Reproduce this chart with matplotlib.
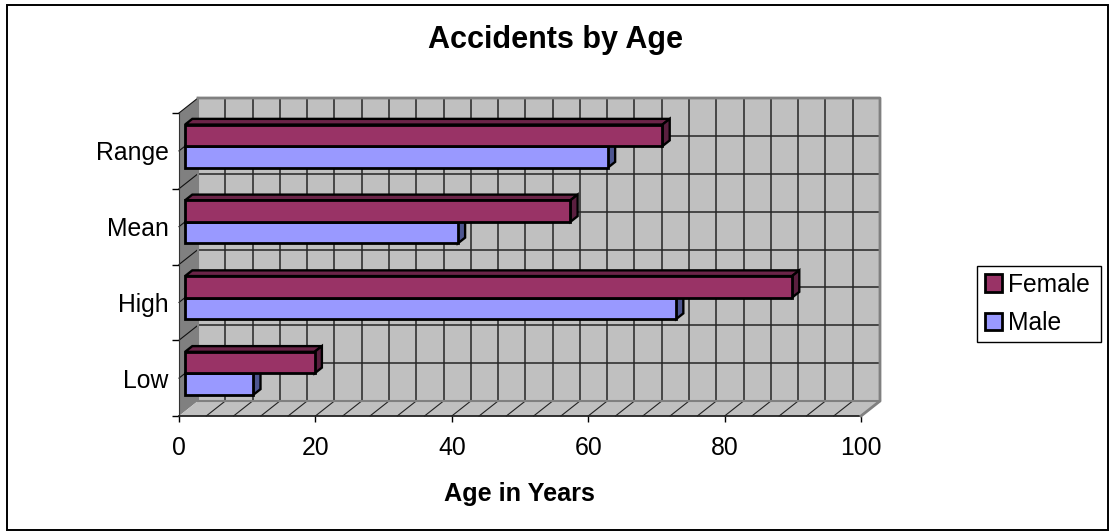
from matplotlib import pyplot as plt
from matplotlib.patches import Patch, Polygon, Rectangle
import numpy as np

categories = ["Low", "High", "Mean", "Range"]
male = [10, 72, 40, 62]
female = [19, 89, 56.5, 70]
x_ticks = [0, 20, 40, 60, 80, 100]

plt.rcParams['font.family'] = ['Liberation Sans', 'DejaVu Sans']

W, H = 1111, 531
fig = plt.figure(figsize=(W / 100, H / 100), dpi=100, facecolor='white')

# front plane of the fake 3d box, in pixels
left, right, top, bottom = 179, 861, 113, 416
ax = fig.add_axes([left / W, 1 - bottom / H, (right - left) / W, (bottom - top) / H])
ax.set_xlim(0, 100)
ax.set_ylim(0, 4)
ax.patch.set_alpha(0)

# depth of the box in data units
dx = 19 / 6.82
dy = 15 / 75.75
grid_x = np.arange(0, 101, 4)
grid_y = np.arange(0, 4.01, 0.5)

# walls
ax.add_patch(Polygon([(dx, dy), (100 + dx, dy), (100 + dx, 4 + dy), (dx, 4 + dy)], fc='#c0c0c0', ec='none', clip_on=False, zorder=1))
ax.add_patch(Polygon([(0, 0), (dx, dy), (dx, 4 + dy), (0, 4)], fc='#808080', ec='none', clip_on=False, zorder=1))
ax.add_patch(Polygon([(0, 0), (100, 0), (100 + dx, dy), (dx, dy)], fc='#c0c0c0', ec='none', clip_on=False, zorder=1))

for v in grid_x[1:-1]:
    ax.plot([v + dx, v + dx], [dy, 4 + dy], color='#262626', lw=1.1, clip_on=False, zorder=2)
    ax.plot([v, v + dx], [0, dy], color='#222222', lw=0.8, clip_on=False, zorder=2)
for v in grid_y[1:-1]:
    ax.plot([dx, 100 + dx], [v + dy, v + dy], color='#262626', lw=1.1, clip_on=False, zorder=2)
    ax.plot([0, dx], [v, v + dy], color='#111111', lw=0.8, clip_on=False, zorder=2)
ax.plot([0, dx], [4, 4 + dy], color='#111111', lw=0.8, clip_on=False, zorder=2)

# gray rim of the back wall and floor
ax.plot([dx, 100 + dx, 100 + dx, 100], [4 + dy, 4 + dy, dy, 0], color='#808080', lw=2, clip_on=False, zorder=3)
ax.plot([dx, 100 + dx], [dy, dy], color='#808080', lw=1.5, clip_on=False, zorder=2)
ax.plot([dx, dx], [dy, 4 + dy], color='#808080', lw=1.5, clip_on=False, zorder=2)


def bars(values, offset, face, top_col, side_col):
    d0, d1 = 0.32, 0.70
    h = 0.284
    pos = np.arange(len(values)) + 0.5 + offset
    start = d0 * dx
    ddx = (d1 - d0) * dx
    ddy = (d1 - d0) * dy
    ax.barh(pos + d0 * dy, values, height=h, left=start, color=face, edgecolor='black', lw=2.0, zorder=5, clip_on=False)
    for v, p in zip(values, pos):
        y0 = p + d0 * dy - h / 2
        y1 = y0 + h
        end = start + v
        ax.add_patch(Polygon([(start, y1), (start + ddx, y1 + ddy), (end + ddx, y1 + ddy), (end, y1)], fc=top_col, ec='black', lw=1.7, clip_on=False, zorder=4))
        ax.add_patch(Polygon([(end, y0), (end + ddx, y0 + ddy), (end + ddx, y1 + ddy), (end, y1)], fc=side_col, ec='black', lw=1.7, clip_on=False, zorder=4))


bars(male, -0.142, '#9999ff', '#6b6bb3', '#4d5590')
bars(female, 0.142, '#993366', '#6b2448', '#5a1f3f')

# axes
for s in ['top', 'right']:
    ax.spines[s].set_visible(False)
ax.spines['left'].set_color('#333333')
ax.spines['bottom'].set_color('#222222')
ax.spines['bottom'].set_linewidth(1.3)
ax.set_xticks(x_ticks)
ax.set_yticks(np.arange(0, 5))
ax.set_yticklabels([])
ax.set_yticks(np.arange(4) + 0.5, categories, minor=True)
ax.tick_params(axis='x', direction='out', length=4, width=1, labelsize=17.8, pad=10.5)
ax.tick_params(axis='y', which='major', direction='out', length=5, width=1)
ax.tick_params(axis='y', which='minor', length=0, labelsize=17.8, pad=7.5)
for lab in ax.get_yticklabels(minor=True):
    lab.set_y(lab.get_position()[1])

fig.text(556 / W, 1 - 40 / H, "Accidents by Age", fontsize=22, fontweight='bold', ha='center', va='center')
fig.text(519 / W, 1 - 494 / H, "Age in Years", fontsize=18.2, fontweight='bold', ha='center', va='center')

handles = [Patch(fc='#993366', ec='black', lw=2), Patch(fc='#9999ff', ec='black', lw=2)]
fig.legend(handles, ["Female", "Male"], loc='center left', bbox_to_anchor=(980 / W, 1 - 304 / H), fontsize=17.7,
           frameon=False, borderaxespad=0, borderpad=0.2,
           handlelength=0.7, handleheight=0.7, handletextpad=0.22, labelspacing=0.6)
fig.add_artist(Rectangle((977 / W, 1 - 342 / H), 124 / W, 76 / H, transform=fig.transFigure, fc='none', ec='black', lw=1))

# outer chart border
fig.add_artist(Rectangle((7 / W, 1 - 530 / H), 1101 / W, 525 / H, transform=fig.transFigure, fc='none', ec='black', lw=1.4))

fig.savefig('out.png', dpi=100)
